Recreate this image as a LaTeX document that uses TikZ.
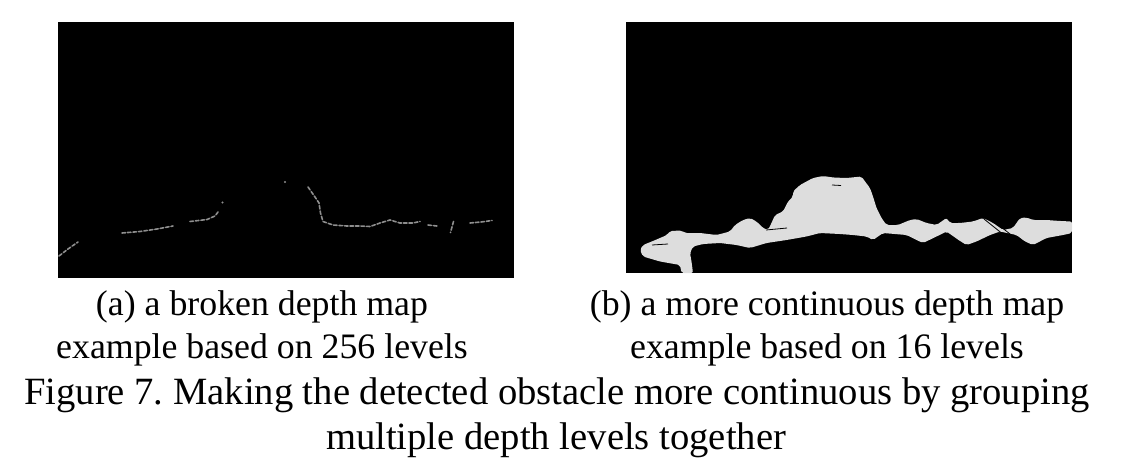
\documentclass[tikz,border=0pt]{standalone}
\usepackage{fontspec}
\setmainfont{Liberation Serif}
\frenchspacing
\definecolor{blobgray}{HTML}{DDDDDD}
\definecolor{edgegray}{HTML}{8E8E8E}
\tikzset{
  mapbox/.style={fill=black},
  edgeline/.style={edgegray,line width=1.6pt,line cap=round,dash pattern=on 3.5pt off 2pt},
  capline/.style={anchor=base,inner sep=0pt,font=\fontsize{35.8}{43}\selectfont},
  figline/.style={anchor=base,inner sep=0pt,font=\fontsize{38.6}{45}\selectfont}
}
\begin{document}
\begin{tikzpicture}[x=1pt,y=-1pt]
  \useasboundingbox (0,0) rectangle (1140,460);

	% Left map (256 levels)
	\fill[mapbox] (58,22) rectangle (514,278);
	\draw[edgeline] (59,256) -- (68,249) -- (78,242);
	\draw[edgeline] (122,233) -- (140,231.5) -- (157,229) -- (173,226);
	\draw[edgeline] (190,221.5) -- (207,219.5) -- (215,216) -- (218,212);
	\fill[edgegray] (222.5,202.5) circle (1.2pt);
	\fill[edgegray] (285,182) circle (1.2pt);
	\draw[edgeline] (308,187) -- (315,197) -- (319,203) -- (320.5,213) -- (323,221.5) -- (333,225) -- (347,226) -- (360,226) -- (370,226.5) -- (380,223) -- (390,220) -- (400,223) -- (413,223) -- (420,221.5);
	\draw[edgeline] (428,225) -- (437,226);
	\draw[edgeline] (453.5,221.5) -- (452,227) -- (450.5,232.5);
	\draw[edgeline] (470,223) -- (481,222) -- (492,220.5);

	% Right map (16 levels)
	\fill[mapbox] (626,22) rectangle (1072,273);
	\fill[blobgray,rounded corners=2pt] (681.5,273) -- (680,265) -- (660,261.5) -- (643,256.5) -- (640,250) -- (643,245)
	  -- (653,241) -- (667,235) -- (670,231) -- (681.5,230.5) -- (685,233) -- (700,233) -- (716.5,235) -- (730,231.5)
	  -- (735,225) -- (743,220) -- (750,218) -- (756.5,221.5) -- (763,228) -- (768,230) -- (771.5,223) -- (775,215)
	  -- (783,211.5) -- (788,201.5) -- (793,196.5) -- (793,191.5) -- (800,185) -- (813,178) -- (823,176) -- (833,177.5)
	  -- (846.5,178) -- (861.5,176.5) -- (865,181.5) -- (870,188) -- (873,196.5) -- (876.5,208) -- (881.5,218)
	  -- (886.5,225) -- (898,225) -- (910,220) -- (916.5,219) -- (926.5,223) -- (936.5,225) -- (946.5,218) -- (950,223)
	  -- (960,223) -- (973,221.5) -- (983,218) -- (993,223) -- (1003,230) -- (1013,228) -- (1020,218) -- (1026.5,217.5)
	  -- (1033,220) -- (1046.5,220) -- (1060,221) -- (1072,221.5) -- (1072,233) -- (1063,235) -- (1046.5,238) -- (1033,245)
	  -- (1025,241.5) -- (1016.5,235) -- (1000,231.5) -- (990,235) -- (976.5,241.5) -- (966.5,245) -- (960,241)
	  -- (946.5,231.5) -- (936.5,236.5) -- (923,243) -- (916.5,240) -- (906.5,235) -- (883,233) -- (873,240)
	  -- (866.5,236.5) -- (853,235) -- (840,234) -- (820,233) -- (806.5,236.5) -- (786.5,240) -- (766.5,243)
	  -- (750,248) -- (736.5,245) -- (720,243) -- (703,244) -- (693,246.5) -- (690,253) -- (691.5,261.5) -- (693,273) -- cycle;
	% dark streaks
	\draw[black,line width=0.8pt] (766,230) -- (787,228);
	\draw[black,line width=0.8pt] (652,245) -- (668,244);
	\draw[black,line width=0.8pt] (832,185) -- (841,185.5);
	\draw[black,line width=0.8pt] (984,219) -- (1004,235);
	\draw[black,line width=0.8pt] (991,219) -- (1010,234);

	% Captions
	\node[capline] (capA1) at (262,315) {(a) a broken depth map};
	\node[capline] (capA2) at (262,358) {example based on 256 levels};
	\node[capline] (capB1) at (827,315) {(b) a more continuous depth map};
	\node[capline] (capB2) at (827,358) {example based on 16 levels};
	\node[figline] (fig1) at (557,404) {Figure 7. Making the detected obstacle more continuous by grouping};
	\node[figline] (fig2) at (556,449) {multiple depth levels together};
\end{tikzpicture}
\end{document}
